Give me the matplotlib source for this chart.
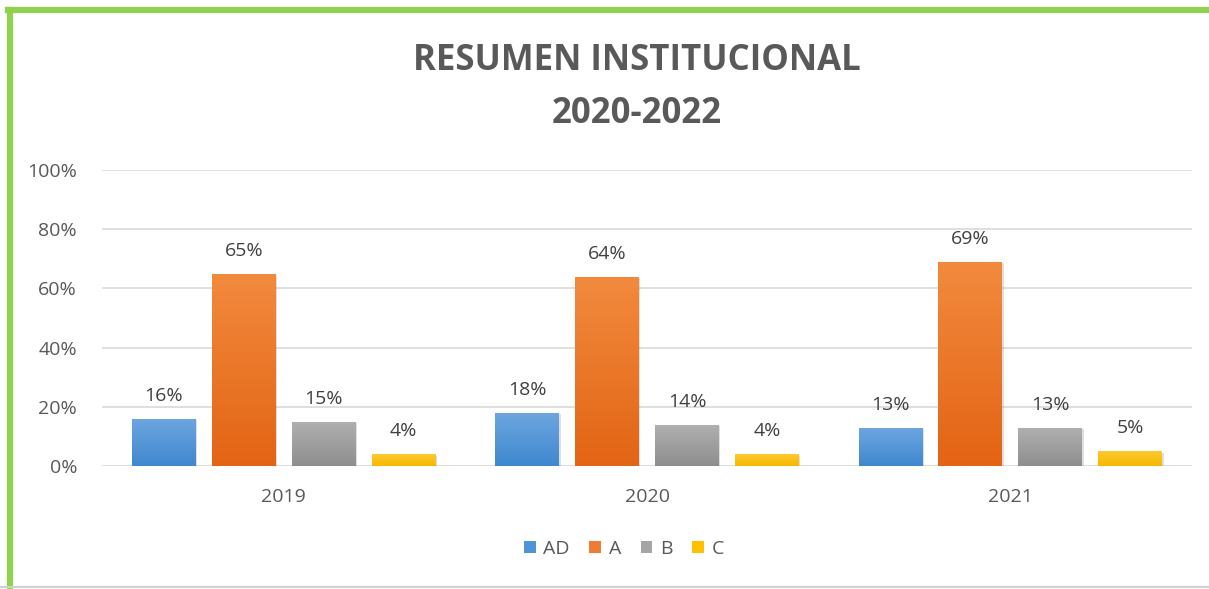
import matplotlib.pyplot as plt
import numpy as np
from matplotlib.colors import LinearSegmentedColormap
from matplotlib.lines import Line2D
from matplotlib import patheffects as pe

plt.rcParams.update({
    "font.family": ["Open Sans", "DejaVu Sans"],
    "figure.facecolor": "white",
})

years = ["2019", "2020", "2021"]
series = ["AD", "A", "B", "C"]
ad = [0.16, 0.18, 0.13]
a = [0.65, 0.64, 0.69]
b = [0.15, 0.14, 0.13]
c = [0.04, 0.04, 0.05]
values = [ad, a, b, c]

# top colour, bottom colour for the gradient fill
grads = [("#6ea6e0", "#3f88cf"), ("#f28a3e", "#e36414"),
         ("#b0b0b0", "#8e8e8e"), ("#ffc930", "#f5b800")]
legend_cols = ["#4f93d8", "#ed7d31", "#a5a5a5", "#ffc000"]

fig = plt.figure(figsize=(12.09, 5.89), dpi=100)
ax = fig.add_axes([0.0844, 0.2088, 0.9016, 0.5026])

x = np.arange(len(years))
step = 0.22
width = 0.176
for i, (name, vals) in enumerate(zip(series, values)):
    pos = x + (i - 1.5) * step
    bars = ax.bar(pos, vals, width, color=legend_cols[i], label=name, zorder=3,
                  path_effects=[pe.SimplePatchShadow(offset=(1, -1), alpha=0.25,
                                                     shadow_rgbFace="#808080"),
                                pe.Normal()])
    cmap = LinearSegmentedColormap.from_list(name, [grads[i][1], grads[i][0]])
    for bar, v in zip(bars, vals):
        x0, w, h = bar.get_x(), bar.get_width(), bar.get_height()
        im = ax.imshow(np.linspace(0, 1, 100).reshape(-1, 1), cmap=cmap,
                       origin="lower", aspect="auto",
                       extent=(x0, x0 + w, 0, h), zorder=4)
        im.set_clip_path(bar)
        ax.annotate(f"{v:.0%}", (bar.get_x() + w / 2, h), xytext=(0, 10),
                    textcoords="offset points", ha="center", va="bottom",
                    fontsize=14, color="#404040")

ax.set_xlim(-0.5, 2.5)
ax.set_ylim(0, 1)
ax.set_yticks(np.arange(0, 1.01, 0.2))
ax.set_yticklabels([f"{int(t * 100)}%" for t in np.arange(0, 1.01, 0.2)])
ax.set_xticks(x)
ax.set_xticklabels(years)
ax.tick_params(length=0, labelsize=14, colors="#595959")
ax.tick_params(axis="y", pad=18)
ax.tick_params(axis="x", pad=16)
for s in ax.spines.values():
    s.set_visible(False)
ax.grid(axis="y", color="#d9d9d9", linewidth=1.2, zorder=0)
ax.set_axisbelow(True)

fig.text(0.527, 0.897, "RESUMEN INSTITUCIONAL", ha="center", va="center",
         fontsize=25, fontweight="bold", color="#595959")
fig.text(0.527, 0.806, "2020-2022", ha="center", va="center",
         fontsize=25, fontweight="bold", color="#595959")

handles = [plt.Rectangle((0, 0), 1, 1, fc=col) for col in legend_cols]
fig.legend(handles, series, loc="center", bbox_to_anchor=(0.516, 0.068), ncol=4,
           frameon=False, fontsize=14, handlelength=0.6, handleheight=0.6,
           handletextpad=0.4, columnspacing=1.0, labelcolor="#595959")

# green frame (left and top) and grey bottom edge
fig.add_artist(Line2D([0.0083, 0.0083], [0.0, 0.983], color="#92d050",
                      linewidth=4.5, transform=fig.transFigure))
fig.add_artist(Line2D([0.0064, 1.0], [0.983, 0.983], color="#92d050",
                      linewidth=4.5, transform=fig.transFigure))
fig.add_artist(Line2D([0.0, 1.0], [0.004, 0.004], color="#d0d0d0",
                      linewidth=1.5, transform=fig.transFigure))

fig.savefig("out.png", dpi=100)
